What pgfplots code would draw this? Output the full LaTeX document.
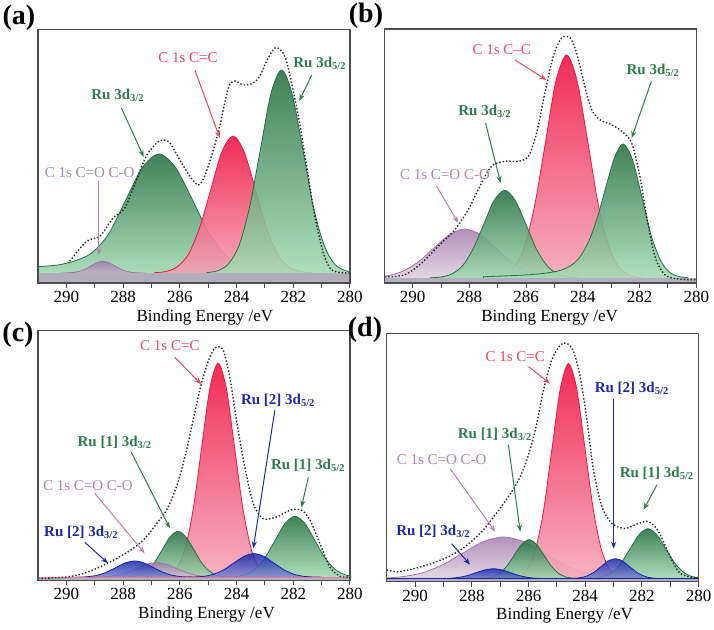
\documentclass[border=0pt]{standalone}
\usepackage{pgfplots}
\pgfplotsset{compat=1.18}
\usepackage{fontspec}
\setmainfont{Liberation Serif}
\usetikzlibrary{arrows.meta}

\definecolor{gdark}{RGB}{38,112,66}
\definecolor{glight}{RGB}{170,224,186}
\definecolor{rdark}{RGB}{240,22,68}
\definecolor{rlight}{RGB}{246,172,188}
\definecolor{pdark}{RGB}{160,118,168}
\definecolor{plight}{RGB}{226,212,226}
\definecolor{bdark}{RGB}{22,38,168}
\definecolor{blight}{RGB}{140,150,218}
\definecolor{gtext}{RGB}{45,125,75}
\definecolor{rtext}{RGB}{240,70,95}
\definecolor{ptext}{RGB}{178,128,178}
\definecolor{btext}{RGB}{28,40,170}
\definecolor{bandc}{RGB}{178,174,188}

\pgfplotsset{
  xpsaxis/.style={
    scale only axis, width=156pt, anchor=south west,
    xmin=280, xmax=291, x dir=reverse, ymin=0,
    xtick={280,282,284,286,288,290}, minor xtick={281,283,285,287,289},
    xtick pos=bottom, ytick=\empty, tick align=outside,
    major tick length=2.5pt, minor tick length=2.5pt,
    axis line style={black!70, line width=0.6pt},
    tick style={black!70, line width=0.5pt},
    xticklabel style={font=\fontsize{8.5}{9}\selectfont, inner sep=1.5pt},
    /pgf/number format/assume math mode=true,
    xlabel={Binding Energy /eV},
    xlabel style={font=\fontsize{8.5}{9}\selectfont, anchor=center, yshift=-17pt},
    clip mode=individual, axis on top=true,
  },
  gpk/.style={smooth, draw=gdark, line width=0.4pt, top color=gdark, bottom color=glight, fill opacity=0.88},
  rpk/.style={smooth, draw=rdark, line width=0.4pt, top color=rdark, bottom color=rlight, fill opacity=0.9},
  ppk/.style={smooth, draw=pdark, line width=0.4pt, top color=pdark, bottom color=plight, fill opacity=0.8},
  bpk/.style={smooth, draw=bdark, line width=0.4pt, top color=bdark, bottom color=blight, fill opacity=0.85},
  env/.style={smooth, densely dotted, line width=0.7pt, black!85},
  band/.style={draw=none, fill=bandc},
}
\tikzset{
  ann/.style={font=\fontsize{7.5}{8}\selectfont, inner sep=0pt},
  annb/.style={font=\fontsize{7.5}{8}\selectfont\bfseries, inner sep=0pt},
  arr/.style={-{Stealth[length=3.5pt,width=2.6pt]}, line width=0.5pt},
  plab/.style={font=\fontsize{14}{15}\selectfont\bfseries, inner sep=0pt},
}

\begin{document}
\begin{tikzpicture}
\useasboundingbox (0,0) rectangle (357pt,315pt);

% ---------------- (a) ----------------
\begin{axis}[xpsaxis, at={(19pt,173.5pt)}, height=126.75pt, ymax=253.5,
  xlabel style={at={(axis description cs:0.535,0)}}]
\addplot[gpk] coordinates {(281.9,10.5) (282.57,11.5) (283.16,13) (283.76,17) (284.35,27) (284.95,48.6) (285.54,82.2) (286.14,115.0) (286.73,129) (287.33,115.0) (287.92,82.2) (288.52,48.6) (289.11,30) (289.71,22) (290.30,18) (290.90,16.5) (291.3,15.5)} \closedcycle;
\addplot[rpk] coordinates {(281.36,10.3) (281.75,11.5) (282.15,16.0) (282.54,28.5) (282.94,54.5) (283.33,93.1) (283.73,130.9) (284.12,147) (284.52,130.9) (284.91,93.1) (285.31,54.5) (285.70,28.5) (286.10,16.0) (286.49,11.5) (286.89,10.3)} \closedcycle;
\addplot[gpk] coordinates {(279.79,10.4) (280.16,12.3) (280.54,18.9) (280.91,37.5) (281.29,75.9) (281.66,133.1) (282.04,189.1) (282.41,213) (282.79,189.1) (283.16,133.1) (283.54,75.9) (283.91,37.5) (284.29,18.9) (284.66,12.3) (285.04,10.4)} \closedcycle;
\addplot[ppk] coordinates {(287.24,10.0) (287.45,10.1) (287.66,10.5) (287.87,11.6) (288.08,13.8) (288.29,17.1) (288.50,20.3) (288.71,21.7) (288.92,20.3) (289.13,17.1) (289.34,13.8) (289.55,11.6) (289.76,10.5) (289.97,10.1) (290.18,10.0)} \closedcycle;
\addplot[band] coordinates {(279.9,10) (291.1,10)} \closedcycle;
\addplot[env] coordinates {(289.88,21.7) (289.29,41.7) (288.82,46.7) (288.35,65) (287.94,75) (287.53,103) (287.18,127) (286.82,140) (286.59,143) (286.35,140) (286.0,123) (285.65,107) (285.35,98) (285.12,107) (284.82,133) (284.59,157) (284.29,195) (284.06,202) (283.76,198) (283.41,200) (283.18,207) (282.94,222) (282.65,235) (282.41,232) (282.24,222) (282.06,200) (281.82,167) (281.53,117) (281.24,67) (280.94,30) (280.71,15) (280.47,11) (280.0,10)};
\draw[arr, gtext] (axis cs:288.06,175) -- (axis cs:287.27,126);
\node[annb, gtext] at (axis cs:288.18,188) {Ru 3d\textsubscript{3/2}};
\draw[arr, rtext] (axis cs:285.47,213) -- (axis cs:284.59,145);
\node[ann, rtext] at (axis cs:285.71,225) {C 1s C=C};
\draw[arr, gtext] (axis cs:281.35,208) -- (axis cs:281.79,182);
\node[annb, gtext] at (axis cs:281.06,220) {Ru 3d\textsubscript{5/2}};
\draw[arr, ptext] (axis cs:288.85,102) -- (axis cs:288.85,28);
\node[ann, ptext] at (axis cs:289.18,110) {C 1s C=O C-O};
\end{axis}

% ---------------- (b) ----------------
\begin{axis}[xpsaxis, at={(192.15pt,173.5pt)}, height=127pt, ymax=254,
  xlabel style={at={(axis description cs:0.53,0)}}]
\addplot[rpk] coordinates {(281.95,5.5) (282.32,7.5) (282.70,14.8) (283.07,35.2) (283.45,77.4) (283.82,140.2) (284.20,201.8) (284.57,228) (284.95,201.8) (285.32,140.2) (285.70,77.4) (286.07,35.2) (286.45,14.8) (286.82,7.5) (287.20,5.5)} \closedcycle;
\addplot[ppk] coordinates {(284.31,5.1) (284.86,5.5) (285.41,7.2) (285.96,11.6) (286.51,20.9) (287.06,34.7) (287.61,48.2) (288.16,54) (288.71,48.2) (289.26,34.7) (289.81,20.9) (290.36,11.6) (290.91,7.2) (291.46,5.5)} \closedcycle;
\addplot[gpk] coordinates {(284.13,5.2) (284.50,6.0) (284.88,8.9) (285.25,16.9) (285.63,33.5) (286.00,58.2) (286.38,82.4) (286.75,92.7) (287.13,82.4) (287.50,58.2) (287.88,33.5) (288.25,16.9) (288.63,8.9) (289.00,6.0) (289.38,5.2)} \closedcycle;
\addplot[gpk] coordinates {(280.30,5.3) (280.62,6.5) (280.95,10.9) (281.27,23.1) (281.60,48.5) (281.92,86.3) (282.25,123.3) (282.57,139) (282.87,126.4) (283.17,97.7) (283.47,67.2) (283.77,43.1) (284.07,27.3) (284.37,18.4) (284.77,12.8) (285.27,10.0) (285.87,8.3) (286.57,7.3) (287.5,6.2)} \closedcycle;
\addplot[band] coordinates {(279.9,5) (291.1,5)} \closedcycle;
\addplot[env] coordinates {(290.98,6) (290.27,8.3) (289.68,20) (289.10,36.7) (288.51,53.3) (288.04,73.3) (287.63,96.7) (287.22,116.7) (286.75,121.7) (286.28,121.7) (285.92,126.7) (285.63,150) (285.34,190) (285.04,226.7) (284.75,245) (284.45,245) (284.22,230) (283.93,196.7) (283.69,173.3) (283.40,163.3) (282.99,158.3) (282.63,151.7) (282.28,140) (281.99,106.7) (281.75,66.7) (281.46,26.7) (281.11,8.3) (280.64,4) (280.0,3.3)};
\draw[arr, rtext] (axis cs:286.39,223) -- (axis cs:285.28,203);
\node[ann, rtext] at (axis cs:286.86,233) {C 1s C--C};
\draw[arr, gtext] (axis cs:287.43,160) -- (axis cs:286.90,100);
\node[annb, gtext] at (axis cs:287.45,172) {Ru 3d\textsubscript{3/2}};
\draw[arr, gtext] (axis cs:281.58,202) -- (axis cs:282.28,145);
\node[annb, gtext] at (axis cs:281.52,213) {Ru 3d\textsubscript{5/2}};
\draw[arr, ptext] (axis cs:289.16,97) -- (axis cs:288.39,60);
\node[ann, ptext] at (axis cs:288.86,108) {C 1s C=O C-O};
\end{axis}

% ---------------- (c) ----------------
\begin{axis}[xpsaxis, at={(19pt,24.85pt)}, height=125pt, ymax=250,
  xlabel style={at={(axis description cs:0.54,0)}}]
\addplot[rpk] coordinates {(282.62,3.5) (282.91,5.4) (283.20,12.4) (283.49,32.0) (283.78,72.5) (284.07,132.8) (284.36,191.9) (284.65,217) (284.94,191.9) (285.23,132.8) (285.52,72.5) (285.81,32.0) (286.10,12.4) (286.39,5.4) (286.68,3.5)} \closedcycle;
\addplot[gpk] coordinates {(279.49,3.1) (279.84,3.7) (280.19,5.7) (280.54,11.3) (280.89,22.8) (281.24,40.0) (281.59,56.8) (281.94,64) (282.29,56.8) (282.64,40.0) (282.99,22.8) (283.34,11.3) (283.69,5.7) (284.04,3.7) (284.39,3.1)} \closedcycle;
\addplot[gpk] coordinates {(284.14,3.1) (284.41,3.5) (284.69,5.0) (284.96,9.2) (285.24,17.9) (285.51,30.9) (285.79,43.6) (286.06,49) (286.34,43.6) (286.61,30.9) (286.89,17.9) (287.16,9.2) (287.44,5.0) (287.71,3.5) (287.99,3.1)} \closedcycle;
\addplot[ppk] coordinates {(284.37,3.0) (284.72,3.2) (285.07,3.6) (285.42,5.0) (285.77,7.8) (286.12,11.9) (286.47,16.0) (286.82,17.7) (287.17,16.0) (287.52,11.9) (287.87,7.8) (288.22,5.0) (288.57,3.6) (288.92,3.2) (289.27,3.0)} \closedcycle;
\addplot[bpk] coordinates {(285.32,3.0) (285.64,3.2) (285.97,3.7) (286.29,5.2) (286.62,8.3) (286.94,12.9) (287.27,17.4) (287.59,19.3) (287.92,17.4) (288.24,12.9) (288.57,8.3) (288.89,5.2) (289.22,3.7) (289.54,3.2) (289.87,3.0)} \closedcycle;
\addplot[bpk] coordinates {(280.94,3.1) (281.29,3.3) (281.64,4.0) (281.99,6.2) (282.34,10.7) (282.69,17.4) (283.04,23.9) (283.39,26.7) (283.74,23.9) (284.09,17.4) (284.44,10.7) (284.79,6.2) (285.14,4.0) (285.49,3.3) (285.84,3.1)} \closedcycle;
\addplot[band, draw=rtext!70, line width=0.6pt] coordinates {(279.9,3) (291.1,3)} \closedcycle;
\addplot[env] coordinates {(291.0,1.7) (290.0,3.3) (289.41,6.7) (288.82,13.3) (288.24,21.7) (287.65,31.7) (287.18,43.3) (286.82,56.7) (286.47,70) (286.12,93.3) (285.82,123.3) (285.53,160) (285.24,196.7) (284.94,223.3) (284.71,233.3) (284.47,230) (284.24,203.3) (284.0,160) (283.71,113.3) (283.41,76.7) (283.06,61.7) (282.59,63.3) (282.12,70) (281.71,70) (281.41,60) (281.06,36.7) (280.71,13.3) (280.35,4) (280.0,3.3)};
\draw[arr, rtext] (axis cs:286.18,223) -- (axis cs:285.24,196);
\node[ann, rtext] at (axis cs:286.35,235) {C 1s C=C};
\draw[arr, btext] (axis cs:282.65,170) -- (axis cs:283.41,32);
\node[annb, btext] at (axis cs:282.53,180) {Ru [2] 3d\textsubscript{5/2}};
\draw[arr, gtext] (axis cs:287.71,128) -- (axis cs:286.35,52);
\node[annb, gtext] at (axis cs:288.29,138) {Ru [1] 3d\textsubscript{3/2}};
\draw[arr, gtext] (axis cs:281.47,103) -- (axis cs:281.71,73);
\node[annb, gtext] at (axis cs:281.47,115) {Ru [1] 3d\textsubscript{5/2}};
\draw[arr, ptext] (axis cs:289.0,87) -- (axis cs:287.24,27);
\node[ann, ptext] at (axis cs:289.24,95) {C 1s C=O C-O};
\draw[arr, btext] (axis cs:289.35,38) -- (axis cs:288.53,17);
\node[annb, btext] at (axis cs:289.47,48) {Ru [2] 3d\textsubscript{3/2}};
\end{axis}

% ---------------- (d) ----------------
\begin{axis}[xpsaxis, at={(193.35pt,24.15pt)}, height=124pt, ymax=248,
  xlabel style={at={(axis description cs:0.57,0)}}]
\addplot[ppk] coordinates {(281.81,3.1) (282.53,3.5) (283.26,4.8) (283.98,8.6) (284.71,16.5) (285.43,28.3) (286.16,39.8) (286.88,44.7) (287.61,39.8) (288.33,28.3) (289.06,16.5) (289.78,8.6) (290.51,4.8) (291.23,3.5) (291.96,3.1)} \closedcycle;
\addplot[rpk] coordinates {(282.56,3.5) (282.85,5.4) (283.14,12.4) (283.43,32.1) (283.72,72.8) (284.01,133.4) (284.30,192.7) (284.59,218) (284.88,192.7) (285.17,133.4) (285.46,72.8) (285.75,32.1) (286.04,12.4) (286.33,5.4) (286.62,3.5)} \closedcycle;
\addplot[gpk] coordinates {(279.62,3.1) (279.93,3.6) (280.24,5.2) (280.55,9.8) (280.86,19.2) (281.17,33.3) (281.48,47.1) (281.79,53) (282.10,47.1) (282.41,33.3) (282.72,19.2) (283.03,9.8) (283.34,5.2) (283.65,3.6) (283.96,3.1)} \closedcycle;
\addplot[gpk] coordinates {(284.16,3.1) (284.42,3.4) (284.68,4.7) (284.94,8.3) (285.20,15.7) (285.46,26.7) (285.72,37.4) (285.98,42) (286.24,37.4) (286.50,26.7) (286.76,15.7) (287.02,8.3) (287.28,4.7) (287.54,3.4) (287.80,3.1)} \closedcycle;
\addplot[bpk] coordinates {(285.14,3.0) (285.44,3.1) (285.74,3.4) (286.04,4.4) (286.34,6.2) (286.64,9.1) (286.94,11.8) (287.24,13) (287.54,11.8) (287.84,9.1) (288.14,6.2) (288.44,4.4) (288.74,3.4) (289.04,3.1) (289.34,3.0)} \closedcycle;
\addplot[bpk] coordinates {(281.19,3.0) (281.44,3.2) (281.69,3.9) (281.94,5.7) (282.19,9.5) (282.44,15.1) (282.69,20.7) (282.94,23) (283.19,20.7) (283.44,15.1) (283.69,9.5) (283.94,5.7) (284.19,3.9) (284.44,3.2) (284.69,3.0)} \closedcycle;
\addplot[band, draw=bdark, line width=0.6pt] coordinates {(279.9,3) (291.1,3)} \closedcycle;
\addplot[env] coordinates {(291.0,11.7) (290.59,10) (290.0,13.3) (289.41,18.3) (288.82,25) (288.24,35) (287.65,50) (287.18,66.7) (286.71,85) (286.35,101.7) (286.06,121.7) (285.76,151.7) (285.47,191.7) (285.18,221.7) (284.88,236.7) (284.65,238.3) (284.41,230) (284.18,205) (283.94,161.7) (283.71,111.7) (283.41,75) (283.06,58.3) (282.59,53.3) (282.12,58.3) (281.76,60) (281.41,50) (281.06,28.3) (280.71,10) (280.35,5) (280.0,4)};
\draw[arr, rtext] (axis cs:286.0,215) -- (axis cs:285.24,198);
\node[ann, rtext] at (axis cs:286.47,225) {C 1s C=C};
\draw[arr, btext] (axis cs:283.0,183) -- (axis cs:283.0,33);
\node[annb, btext] at (axis cs:282.35,193) {Ru [2] 3d\textsubscript{5/2}};
\draw[arr, gtext] (axis cs:286.71,137) -- (axis cs:286.29,50);
\node[annb, gtext] at (axis cs:287.18,147) {Ru [1] 3d\textsubscript{3/2}};
\draw[arr, ptext] (axis cs:288.76,113) -- (axis cs:287.18,50);
\node[ann, ptext] at (axis cs:289.06,122) {C 1s C=O C-O};
\draw[arr, gtext] (axis cs:281.47,97) -- (axis cs:281.94,72);
\node[annb, gtext] at (axis cs:281.47,108) {Ru [1] 3d\textsubscript{5/2}};
\draw[arr, btext] (axis cs:288.71,38) -- (axis cs:288.06,17);
\node[annb, btext] at (axis cs:289.35,50) {Ru [2] 3d\textsubscript{3/2}};
\end{axis}

\node[plab] at (9.5pt,306pt) {(a)};
\node[plab] at (183pt,307pt) {(b)};
\node[plab] at (9pt,147.5pt) {(c)};
\node[plab] at (182.5pt,150pt) {(d)};
\end{tikzpicture}
\end{document}
